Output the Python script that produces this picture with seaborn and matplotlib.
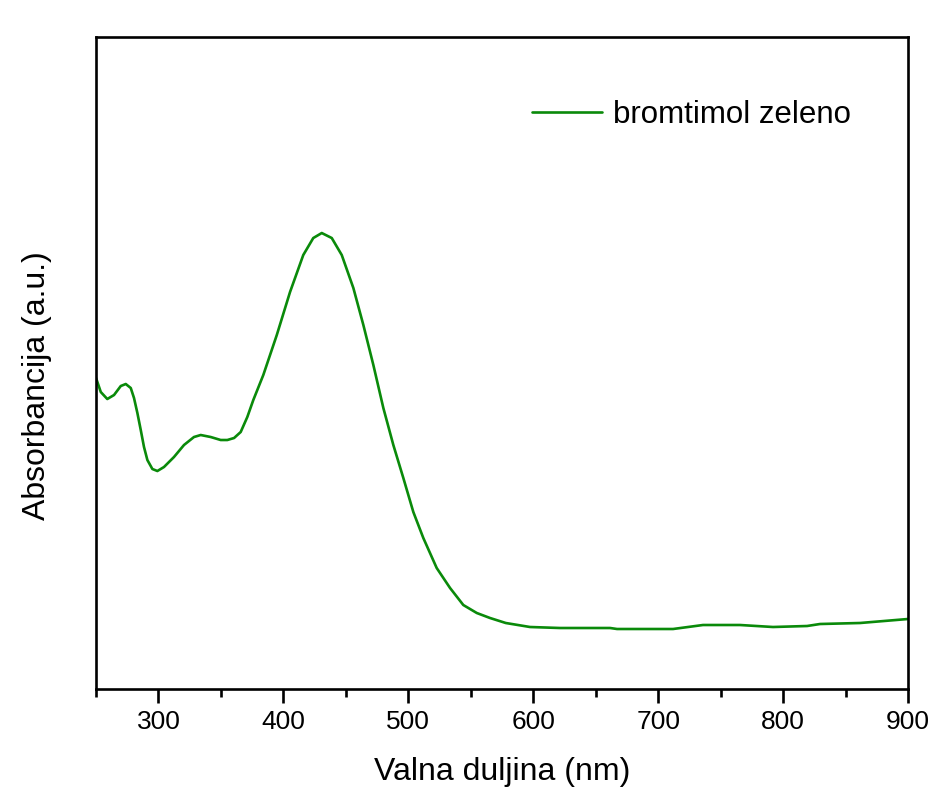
import matplotlib
matplotlib.use("Agg")
import matplotlib.pyplot as plt
import seaborn as sns
import pandas as pd
from matplotlib.ticker import MultipleLocator

wavelength = [250.0, 253.8, 259.0, 264.4, 269.8, 273.8, 277.8, 280.4, 283.1, 285.8,
              288.4, 291.1, 295.1, 299.1, 304.4, 312.4, 320.4, 328.4, 333.8, 341.8,
              349.8, 355.1, 360.5, 365.8, 371.1, 375.9, 383.9, 394.7, 405.3, 415.9,
              423.9, 430.7, 438.7, 446.7, 456.0, 464.0, 472.0, 480.0, 488.0, 496.0,
              504.0, 512.0, 522.7, 533.4, 544.0, 554.8, 565.4, 578.0, 597.4, 621.4,
              661.5, 667.1, 711.9, 735.9, 765.5, 791.9, 819.2, 829.6, 861.6, 900.0]
absorbance = [0.311, 0.297, 0.290, 0.294, 0.303, 0.305, 0.301, 0.291, 0.276, 0.259,
              0.242, 0.229, 0.220, 0.218, 0.222, 0.232, 0.244, 0.252, 0.254, 0.252,
              0.249, 0.249, 0.251, 0.257, 0.272, 0.289, 0.314, 0.354, 0.397, 0.434,
              0.451, 0.456, 0.451, 0.434, 0.401, 0.364, 0.324, 0.281, 0.244, 0.211,
              0.177, 0.151, 0.121, 0.101, 0.084, 0.076, 0.071, 0.066, 0.062, 0.061,
              0.061, 0.060, 0.060, 0.064, 0.064, 0.062, 0.063, 0.065, 0.066, 0.070]
series_name = "bromtimol zeleno"
x_ticks = [300, 400, 500, 600, 700, 800, 900]

df = pd.DataFrame({"Valna duljina (nm)": wavelength,
                   "Absorbancija (a.u.)": absorbance,
                   "series": series_name})

sns.set_theme(style="white")
plt.rcParams['font.family'] = ['Liberation Sans', 'DejaVu Sans']
plt.rcParams['text.color'] = 'black'
plt.rcParams['axes.labelcolor'] = 'black'
plt.rcParams['xtick.color'] = 'black'
plt.rcParams['ytick.color'] = 'black'

fig = plt.figure(figsize=(9.36, 8.05), dpi=100)
ax = fig.add_axes([0.1026, 0.1441, 0.8675, 0.8099])

sns.lineplot(data=df, x="Valna duljina (nm)", y="Absorbancija (a.u.)", hue="series",
             palette=["#0a8a0a"], linewidth=1.9, ax=ax, sort=False)

ax.set_xlim(250, 900)
ax.set_ylim(0, 0.652)
ax.set_xticks(x_ticks)
ax.xaxis.set_minor_locator(MultipleLocator(50))
ax.set_yticks([])
ax.tick_params(axis="x", which="major", direction="out", length=10, width=1.9,
               labelsize=19, color="black", labelcolor="black", bottom=True, pad=5)
ax.tick_params(axis="x", which="minor", direction="out", length=5.5, width=1.9,
               color="black", bottom=True)
for s in ax.spines.values():
    s.set_visible(True)
    s.set_color("black")
    s.set_linewidth(1.9)

ax.set_xlabel("Valna duljina (nm)", fontsize=23)
ax.set_ylabel("Absorbancija (a.u.)", fontsize=23)
ax.xaxis.set_label_coords(0.5, -0.105)
ax.yaxis.set_label_coords(-0.054, 0.466)

leg = ax.legend(loc="center left", bbox_to_anchor=(0.537, 0.880), frameon=False,
                fontsize=22.5, handlelength=2.24, handletextpad=0.35, borderpad=0,
                borderaxespad=0)
for t in leg.get_texts():
    t.set_color("black")

fig.savefig("out.png", dpi=100, facecolor="white")
